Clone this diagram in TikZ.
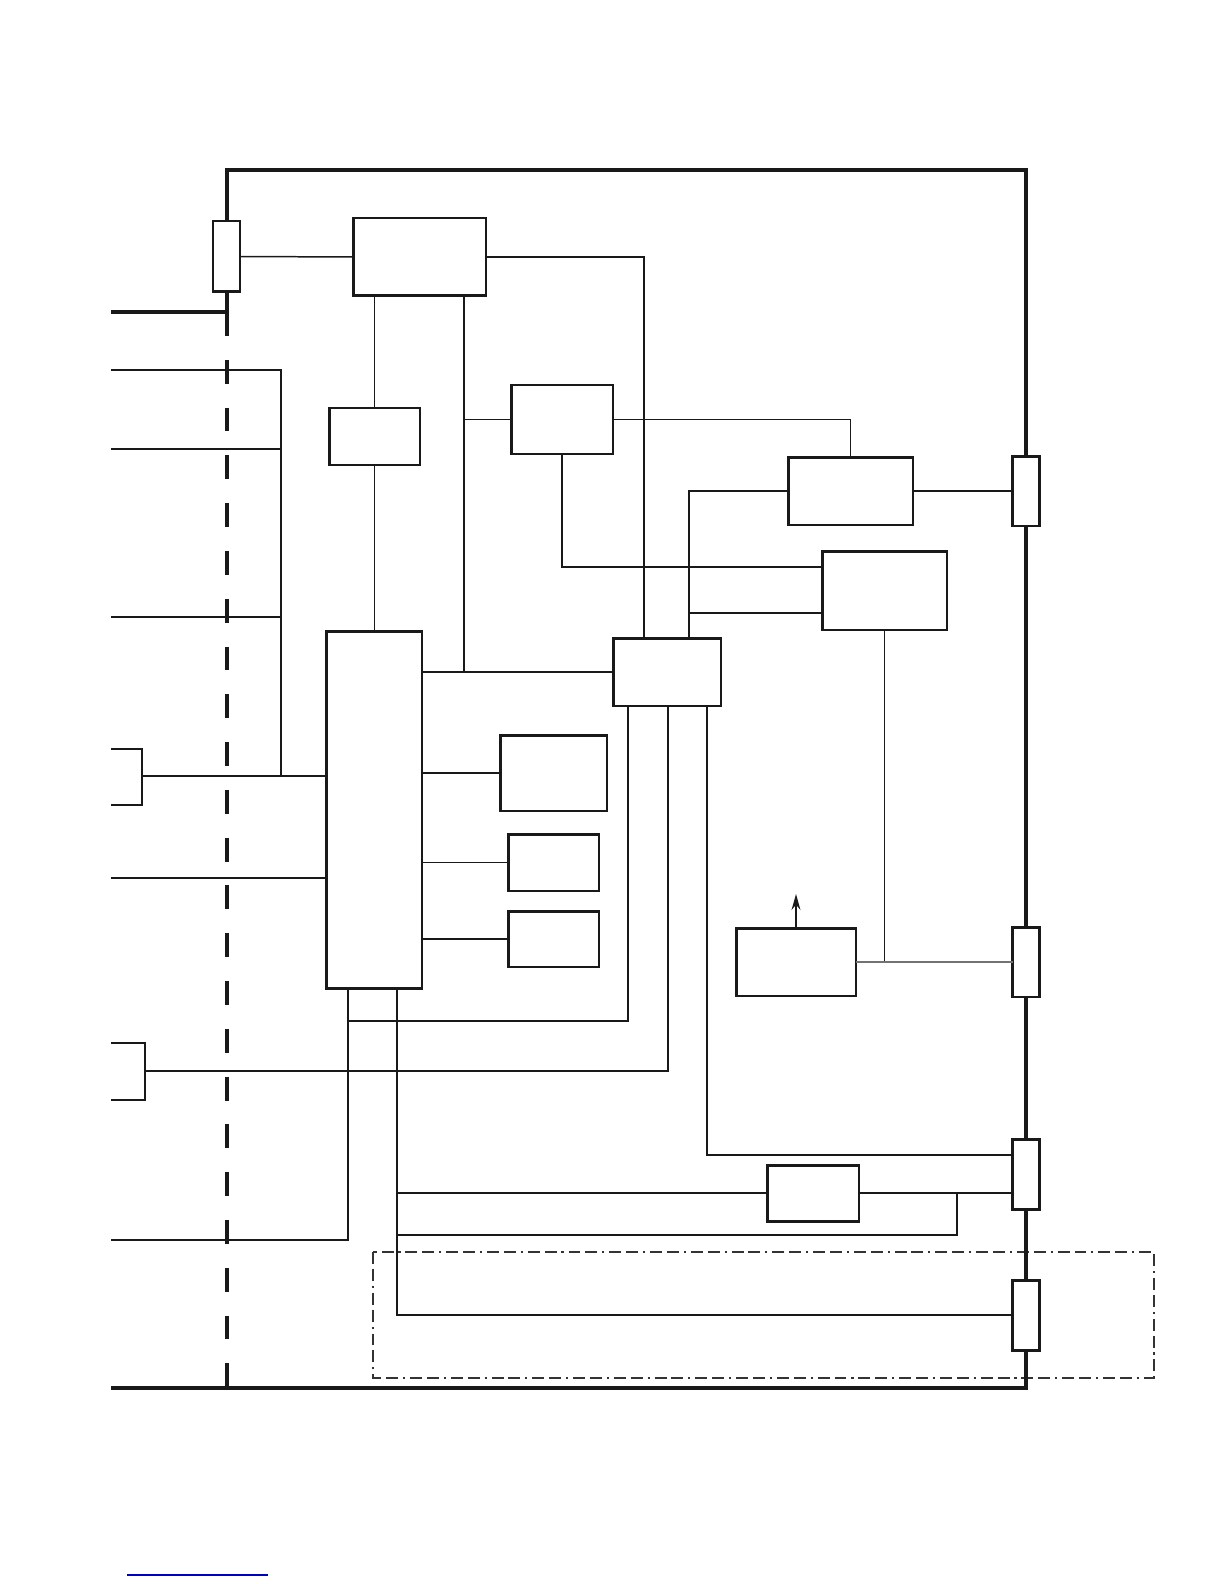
\documentclass[tikz,border=0pt]{standalone}
\usetikzlibrary{arrows.meta}

\begin{document}
\begin{tikzpicture}[
  x=0.02cm, y=-0.02cm,
  block/.style={draw=black!90, line width=1.7pt, fill=white, inner sep=0pt, outer sep=0pt},
  port/.style={block, minimum width=5.3mm, minimum height=14mm},
  wire/.style={draw=black!90, line width=0.85pt},
  frame/.style={draw=black!90, line width=2.3pt},
  plug/.style={draw=black!90, line width=1.5pt},
  zone/.style={draw=black!80, line width=1.1pt, dash pattern=on 6.8pt off 2.8pt on 6.8pt off 2.8pt on 1.2pt off 2.8pt},
  arrow/.style={-{Stealth[length=9pt,width=5pt]}, line width=1.2pt, draw=black!90}
]
\useasboundingbox (0,0) rectangle (1224,1584);

% dashed service area
\draw[zone] (373,1252) rectangle (1154,1378);

% housing
\draw[frame] (227,256) |- (1026,170) -- (1026,1388) -- (111,1388);
\draw[frame] (111,312) -| (227,256);
\draw[frame, dash pattern=on 13.6pt off 13.6pt] (227,312) -- (227,1388);

% ports on the housing
\node[port, minimum width=5.4mm, minimum height=14.2mm] (ptop) at (226.5,256.5) {};
\node[port] (pr1) at (1026,491) {};
\node[port] (pr2) at (1026,962) {};
\node[port] (pr3) at (1026,1174) {};
\node[port] (pr4) at (1026,1315) {};

% blocks
\node[block, minimum width=26.6mm, minimum height=15.6mm] (bA) at (419.5,257) {};
\node[block, minimum width=18.2mm, minimum height=11.4mm] (bB) at (374.5,436.5) {};
\node[block, minimum width=20.4mm, minimum height=13.8mm] (bC) at (562,419.5) {};
\node[block, minimum width=25mm, minimum height=13.6mm] (bF) at (850.5,491) {};
\node[block, minimum width=25mm, minimum height=15.8mm] (bG) at (884.5,590.5) {};
\node[block, minimum width=21.6mm, minimum height=13.6mm] (bD) at (667,672) {};
\node[block, minimum width=19.2mm, minimum height=71.6mm] (hub) at (374,810) {};
\node[block, minimum width=21.4mm, minimum height=15.2mm] (bE1) at (553.5,773) {};
\node[block, minimum width=18.2mm, minimum height=11.4mm] (bE2) at (553.5,862.5) {};
\node[block, minimum width=18.2mm, minimum height=11.2mm] (bE3) at (553.5,939) {};
\node[block, minimum width=24mm, minimum height=13.6mm] (bH) at (796,962) {};
\node[block, minimum width=18.4mm, minimum height=11.2mm] (bI) at (813,1193) {};

% free ends at the left
\coordinate (inA) at (111,370);
\coordinate (inB) at (111,449);
\coordinate (inC) at (111,617);
\coordinate (inD) at (111,878);
\coordinate (inE) at (111,1240);
\coordinate (bus) at (281,776);

% plugs
\draw[plug] (111,749) -| (142,805) -- (111,805);
\draw[plug] (111,1043) -| (145,1100) -- (111,1100);

% upper wiring
\draw[wire] (ptop.east) -- (bA.west);
\draw[wire] (bA.east) -| (644,0 |- bD.north);
\draw[wire] (bA.south -| bB.north) -- (bB.north);
\draw[wire] (bB.south) -- (bB.south |- hub.north);
\draw[wire] (464,0 |- bA.south) -- (464,0 |- bD.west);
\draw[wire] (hub.east |- bD.west) -- (bD.west);
\draw[wire] (464,0 |- bC.west) -- (bC.west);
\draw[wire] (bC.east) -| (bF.north);
\draw[wire] (bC.south) |- (bG.west |- 0,567);
\draw[wire] (bF.east) -- (pr1.west);
\draw[wire] (bF.west) -| (689,0 |- bD.north);
\draw[wire] (689,613) -- (bG.west |- 0,613);
\draw[wire] (bG.south) -- (bG.south |- pr2.west);
\draw[wire, draw=black!55, line width=1pt] (bH.east) -- (pr2.west);
\draw[arrow] (bH.north) -- ++(0,-34);

% hub side wiring
\draw[wire] (hub.east |- bE1.west) -- (bE1.west);
\draw[wire] (hub.east |- bE2.west) -- (bE2.west);
\draw[wire] (hub.east |- bE3.west) -- (bE3.west);
\draw[wire] (inA) -| (bus);
\draw[wire] (inB) -- (inB -| bus);
\draw[wire] (inC) -- (inC -| bus);
\draw[wire] (142,776) -- (hub.west |- bus);
\draw[wire] (inD) -- (hub.west |- inD);

% lower wiring
\draw[wire] (145,1071) -| (668,0 |- bD.south);
\draw[wire] (348,0 |- hub.south) |- (inE);
\draw[wire] (348,1021) -| (628,0 |- bD.south);
\draw[wire] (397,0 |- hub.south) |- (pr4.west);
\draw[wire] (397,0 |- bI.west) -- (bI.west);
\draw[wire] (bI.east) -- (bI.east -| pr3.west);
\draw[wire] (957,0 |- bI.east) |- (397,1235);
\draw[wire] (707,0 |- bD.south) |- (pr3.west |- 0,1155);

\draw[blue!75!black, line width=0.7pt] (127,1575) -- (268,1575);
\end{tikzpicture}
\end{document}
